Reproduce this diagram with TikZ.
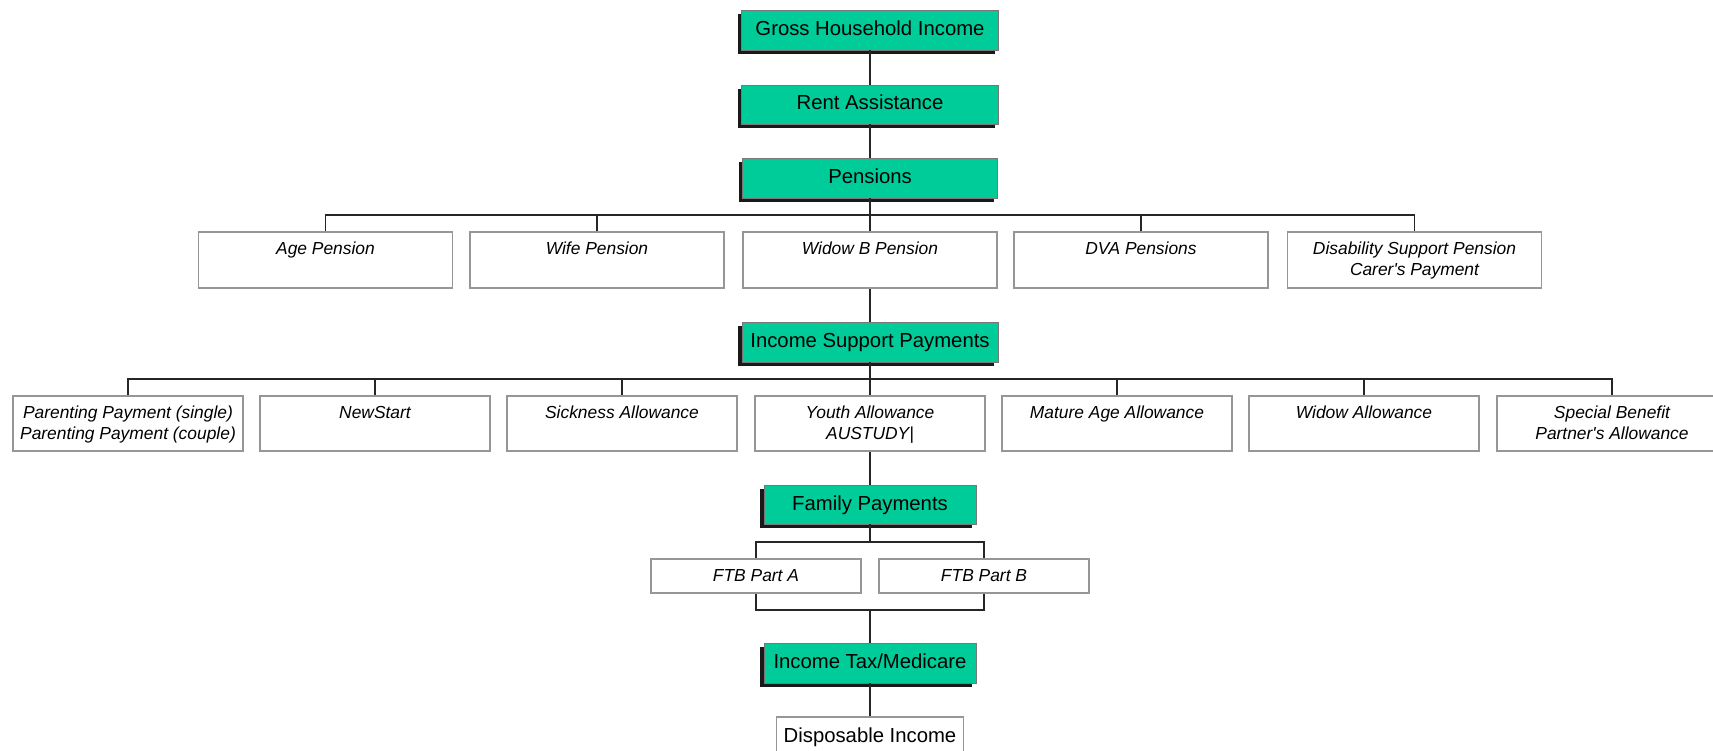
\documentclass[tikz,border=0pt]{standalone}
\usepackage{fontspec}
\setmainfont{Liberation Sans}
\definecolor{hdrgreen}{RGB}{0,204,153}
\definecolor{boxgray}{RGB}{150,150,150}
\definecolor{hdredge}{RGB}{120,120,120}
% fixed-height cell, text set from the top
\newcommand{\itemtext}[2]{\parbox[c][55.5pt][t]{#1}{\centering\vspace*{7.8pt}\strut #2}}
\tikzset{
  hdr/.style={draw=hdredge, line width=0.8pt, fill=hdrgreen, inner sep=0pt,
    minimum height=40pt, text height=15pt, text depth=4pt,
    font=\fontsize{20.3}{24}\selectfont,
    preaction={fill=black!90, draw=none, transform canvas={xshift=-4pt,yshift=-4pt}}},
  itm/.style={draw=boxgray, line width=1.6pt, fill=white, inner sep=0pt,
    font=\fontsize{17.4}{21}\selectfont\itshape},
  ftb/.style={draw=boxgray, line width=1.6pt, fill=white, inner sep=0pt,
    minimum width=210pt, minimum height=34pt, text height=13pt, text depth=3pt,
    font=\fontsize{17.4}{21}\selectfont\itshape},
  outbox/.style={draw=boxgray, line width=1.6pt, fill=white, inner sep=0pt,
    minimum width=187pt, minimum height=40pt, text height=15pt, text depth=4pt,
    font=\fontsize{20.3}{24}\selectfont},
  conn/.style={line width=1.8pt, draw=black!85}
}
\begin{document}
\begin{tikzpicture}[x=1pt, y=-1pt]
\useasboundingbox (0,0) rectangle (1713,751);

% main stages
\node[hdr, minimum width=257pt] (gross) at (870,30)  {Gross Household Income};
\node[hdr, minimum width=257pt, minimum height=39pt] (rent) at (870,104.5) {Rent Assistance};
\node[hdr, minimum width=255pt] (pens)  at (870,178) {Pensions};
\node[hdr, minimum width=256pt] (isp)   at (870,342) {Income Support Payments};
\node[hdr, minimum width=212pt, minimum height=39pt] (fam) at (870,504.5) {Family Payments};
\node[hdr, minimum width=212pt] (tax)   at (870,663) {Income Tax/Medicare};
\node[outbox] (disp) at (870,737) {Disposable Income};

% pensions
\node[itm] (age)    at (325.5,260) {\itemtext{254pt}{Age Pension}};
\node[itm] (wife)   at (597,260)   {\itemtext{254pt}{Wife Pension}};
\node[itm] (widowb) at (870,260)   {\itemtext{254pt}{Widow B Pension}};
\node[itm] (dva)    at (1141,260)  {\itemtext{254pt}{DVA Pensions}};
\node[itm] (dsp)    at (1414.5,260){\itemtext{254pt}{Disability Support Pension\\Carer\textquotesingle s Payment}};

% income support payments
\node[itm] (par)    at (128,423.5)  {\itemtext{230pt}{Parenting Payment (single)\\Parenting Payment (couple)}};
\node[itm] (news)   at (375,423.5)  {\itemtext{230pt}{NewStart}};
\node[itm] (sick)   at (622,423.5)  {\itemtext{230pt}{Sickness Allowance}};
\node[itm] (youth)  at (870,423.5)  {\itemtext{230pt}{Youth Allowance\\AUSTUDY|}};
\node[itm] (mature) at (1117,423.5) {\itemtext{230pt}{Mature Age Allowance}};
\node[itm] (widowa) at (1364,423.5) {\itemtext{230pt}{Widow Allowance}};
\node[itm] (spec)   at (1612,423.5) {\itemtext{230pt}{Special Benefit\\Partner\textquotesingle s Allowance}};

% family payments
\node[ftb] (ftba) at (756,576) {FTB Part A};
\node[ftb] (ftbb) at (984,576) {FTB Part B};

% bus levels
\coordinate (pbus) at (0,215);
\coordinate (ibus) at (0,379);
\coordinate (fbus) at (0,542);
\coordinate (lbus) at (0,610);

% connectors
\draw[conn] (gross.south) -- (rent.north);
\draw[conn] (rent.south) -- (pens.north);

\draw[conn] (pens.south) -- (pens.south |- pbus);
\draw[conn] (age.north) |- (dsp.north |- pbus) -- (dsp.north);
\foreach \n in {wife,widowb,dva} \draw[conn] (\n.north) -- (\n.north |- pbus);

\draw[conn] (widowb.south) -- (isp.north);

\draw[conn] (isp.south) -- (isp.south |- ibus);
\draw[conn] (par.north) |- (spec.north |- ibus) -- (spec.north);
\foreach \n in {news,sick,youth,mature,widowa} \draw[conn] (\n.north) -- (\n.north |- ibus);

\draw[conn] (youth.south) -- (fam.north);

\draw[conn] (fam.south) -- (fam.south |- fbus);
\draw[conn] (ftba.north) |- (ftbb.north |- fbus) -- (ftbb.north);
\draw[conn] (ftba.south) |- (ftbb.south |- lbus) -- (ftbb.south);
\draw[conn] (tax.north |- lbus) -- (tax.north);

\draw[conn] (tax.south) -- (disp.north);
\end{tikzpicture}
\end{document}
